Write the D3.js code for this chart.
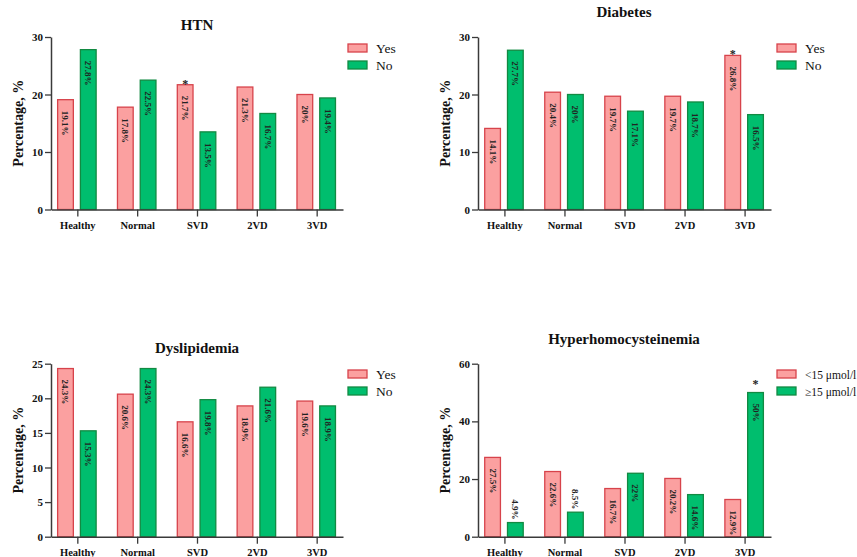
<!DOCTYPE html>
<html>
<head>
<meta charset="utf-8">
<script src="https://cdn.jsdelivr.net/npm/d3@7"></script>
<style>
  html, body { margin: 0; padding: 0; background: #fff; }
  svg { display: block; }
  text { font-family: "Liberation Serif", "Times New Roman", serif; }
</style>
</head>
<body>
<svg id="chart" width="857" height="557"></svg>
<script>
// ---------- data ----------
const categories = ["Healthy", "Normal", "SVD", "2VD", "3VD"];

const htnYes = [19.1, 17.8, 21.7, 21.3, 20];
const htnNo  = [27.8, 22.5, 13.5, 16.7, 19.4];

const diabetesYes = [14.1, 20.4, 19.7, 19.7, 26.8];
const diabetesNo  = [27.7, 20, 17.1, 18.7, 16.5];

const dysYes = [24.3, 20.6, 16.6, 18.9, 19.6];
const dysNo  = [15.3, 24.3, 19.8, 21.6, 18.9];

const hcyLow  = [27.5, 22.6, 16.7, 20.2, 12.9];
const hcyHigh = [4.9, 8.5, 22, 14.6, 50];

const seriesYesNo = ["Yes", "No"];
const seriesHcy = ["<15 μmol/l", "≥15 μmol/l"];

const ticks30 = [0, 10, 20, 30];
const ticks25 = [0, 5, 10, 15, 20, 25];
const ticks60 = [0, 20, 40, 60];

// significance markers: [category, series index]
const htnStar = ["SVD", 0];
const diabetesStar = ["3VD", 0];
const hcyStar = ["3VD", 1];

// ---------- styles ----------
const FONT = '"Liberation Serif", "Times New Roman", serif';
const fills = ["#FBA0A0", "#00BE6E"];
const strokes = ["#D7434B", "#128A42"];
const axisColor = "#3a3a3a";

const svg = d3.select("#chart");

function panel(cfg) {
  const g = svg.append("g").attr("font-family", FONT);
  const y = d3.scaleLinear().domain([0, cfg.max]).range([cfg.y0, cfg.y1]);
  const x = d3.scalePoint().domain(categories).range([cfg.x0, cfg.x1]).padding(0.44);
  const sub = d3.scaleBand().domain([0, 1]).range([-19.7, 18.8]).paddingInner(0.31);
  const bw = sub.bandwidth();

  // bars
  cfg.series.forEach((vals, si) => {
    vals.forEach((v, ci) => {
      const cx = x(categories[ci]) + sub(si);
      const top = y(v);
      g.append("rect")
        .attr("x", cx).attr("y", top)
        .attr("width", bw).attr("height", y(0) - top)
        .attr("fill", fills[si]).attr("stroke", strokes[si]).attr("stroke-width", 1.3);
      const lx = cx + bw / 2;
      const inside = (y(0) - top) > 36;
      const ly = inside ? top + 11 : top - 3;
      g.append("text")
        .attr("transform", `translate(${lx},${ly}) rotate(90)`)
        .attr("text-anchor", inside ? "start" : "end")
        .attr("dominant-baseline", "central")
        .attr("font-family", FONT)
        .attr("font-size", 9).attr("font-weight", "bold")
        .attr("fill", "#222")
        .text(v + "%");
      if (cfg.star && cfg.star[0] === categories[ci] && cfg.star[1] === si) {
        g.append("text")
          .attr("x", lx).attr("y", top + 3 - (cfg.starGap || 0))
          .attr("text-anchor", "middle")
          .attr("font-family", FONT)
          .attr("font-size", 12).attr("font-weight", "bold").attr("fill", "#222")
          .text("*");
      }
    });
  });

  // axes
  const yAxis = d3.axisLeft(y).tickValues(cfg.ticks).tickSize(6).tickSizeOuter(0).tickPadding(2);
  const ya = g.append("g").attr("transform", `translate(${cfg.x0},0)`).call(yAxis);
  const xAxis = d3.axisBottom(x).tickSize(7).tickSizeOuter(0).tickPadding(5);
  const xa = g.append("g").attr("transform", `translate(0,${cfg.y0})`).call(xAxis);
  [ya, xa].forEach(a => {
    a.attr("font-family", FONT);
    a.select(".domain").attr("stroke", axisColor).attr("stroke-width", 1.5);
    a.selectAll(".tick line").attr("stroke", axisColor).attr("stroke-width", 1.3);
    a.selectAll(".tick text")
      .attr("fill", "#111").attr("font-weight", "bold")
      .attr("font-family", FONT);
  });
  ya.selectAll(".tick text").attr("font-size", 11);
  xa.selectAll(".tick text").attr("font-size", 10.5);

  // y label
  g.append("text")
    .attr("transform", `translate(${cfg.x0 - 28},${(cfg.y0 + cfg.y1) / 2}) rotate(-90)`)
    .attr("text-anchor", "middle")
    .attr("font-family", FONT)
    .attr("font-size", 14).attr("font-weight", "bold").attr("fill", "#111")
    .text("Percentage, %");

  // title
  g.append("text")
    .attr("x", cfg.titleX).attr("y", cfg.titleY)
    .attr("text-anchor", "middle")
    .attr("font-family", FONT)
    .attr("font-size", 15).attr("font-weight", "bold").attr("fill", "#111")
    .text(cfg.title);

  // legend
  cfg.names.forEach((n, i) => {
    const ly = cfg.legY + i * 17;
    g.append("rect")
      .attr("x", cfg.legX).attr("y", ly)
      .attr("width", 19).attr("height", 8)
      .attr("fill", fills[i]).attr("stroke", strokes[i]).attr("stroke-width", 1.3);
    const t = g.append("text")
      .attr("x", cfg.legX + 28).attr("y", ly + 8.5)
      .attr("font-family", FONT)
      .attr("font-size", cfg.legSize || 13.5).attr("fill", "#111")
      .text(n);
  });
}

panel({ title: "HTN", titleX: 197, titleY: 29.5, x0: 51, x1: 343, y0: 209.5, y1: 37,
        max: 30, ticks: ticks30, series: [htnYes, htnNo], names: seriesYesNo,
        legX: 348, legY: 44, star: htnStar });
panel({ title: "Diabetes", titleX: 624, titleY: 17, x0: 478, x1: 771, y0: 209.5, y1: 37,
        max: 30, ticks: ticks30, series: [diabetesYes, diabetesNo], names: seriesYesNo,
        legX: 777, legY: 44, star: diabetesStar });
panel({ title: "Dyslipidemia", titleX: 197, titleY: 352.5, x0: 51, x1: 343, y0: 536.7, y1: 363.7,
        max: 25, ticks: ticks25, series: [dysYes, dysNo], names: seriesYesNo,
        legX: 348, legY: 370 });
panel({ title: "Hyperhomocysteinemia", titleX: 624, titleY: 344, x0: 478, x1: 771, y0: 536.7, y1: 363.7,
        max: 60, ticks: ticks60, series: [hcyLow, hcyHigh], names: seriesHcy,
        legX: 777, legY: 370, star: hcyStar, starGap: 8, legSize: 11.5 });
</script>
</body>
</html>
